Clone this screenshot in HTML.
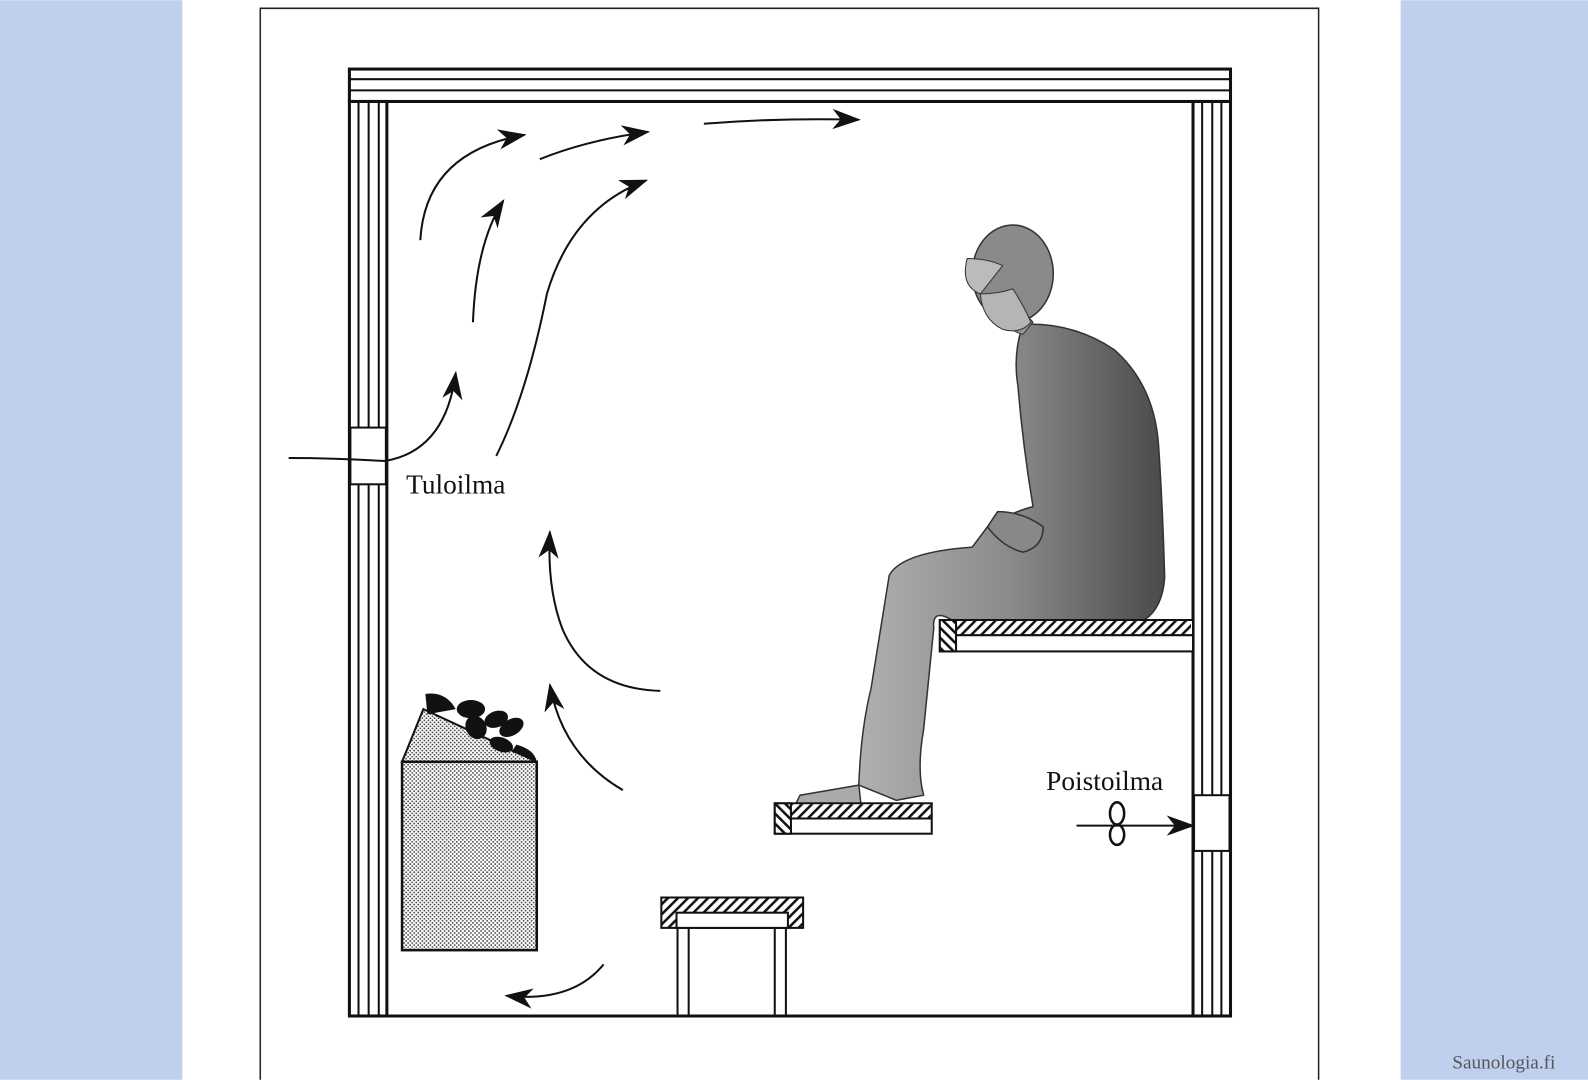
<!DOCTYPE html>
<html><head><meta charset="utf-8"><style>
html,body{margin:0;padding:0;width:1588px;height:1080px;overflow:hidden;background:#fff}
svg{display:block}
</style></head><body>
<svg width="1588" height="1080" viewBox="0 0 1568 1066" xmlns="http://www.w3.org/2000/svg">
<defs>
<pattern id="dots" width="4" height="4" patternUnits="userSpaceOnUse">
<rect width="4" height="4" fill="#fff"/><circle cx="1" cy="1" r="0.9" fill="#444"/><circle cx="3" cy="3" r="0.9" fill="#444"/>
</pattern>
<pattern id="hatch" width="7" height="7" patternUnits="userSpaceOnUse" patternTransform="rotate(45)">
<rect width="7" height="7" fill="#fff"/><rect width="2.5" height="7" fill="#111"/>
</pattern>
<pattern id="hatch2" width="7" height="7" patternUnits="userSpaceOnUse" patternTransform="rotate(-45)">
<rect width="7" height="7" fill="#fff"/><rect width="2.5" height="7" fill="#111"/>
</pattern>
<linearGradient id="body" x1="0" y1="0" x2="1" y2="0">
<stop offset="0" stop-color="#b0b0b0"/><stop offset="0.5" stop-color="#8a8a8a"/><stop offset="1" stop-color="#4a4a4a"/>
</linearGradient>
<marker id="ah" viewBox="0 0 28 20" refX="26" refY="10" markerWidth="28" markerHeight="20" markerUnits="userSpaceOnUse" orient="auto">
<path d="M0,0 L28,10 L0,20 L8,10 Z" fill="#111"/>
</marker>
</defs>
<rect x="0" y="0" width="180" height="1066" fill="#bfd0ef"/>
<rect x="1383" y="0" width="185" height="1066" fill="#bfd0ef"/>
<path d="M257,1066 V8 H1302 V1066" fill="none" stroke="#222" stroke-width="1.5"/>
<rect x="345" y="68" width="870" height="32" fill="#fff" stroke="#111" stroke-width="3"/>
<line x1="345" y1="78" x2="1215" y2="78" stroke="#111" stroke-width="2"/>
<line x1="345" y1="89" x2="1215" y2="89" stroke="#111" stroke-width="2"/>
<g fill="#fff" stroke="#111">
<rect x="345" y="100" width="37" height="903" stroke-width="3"/>
<rect x="1178" y="100" width="37" height="903" stroke-width="3"/>
</g>
<g stroke="#111" stroke-width="2">
<line x1="354" y1="100" x2="354" y2="1003"/><line x1="364" y1="100" x2="364" y2="1003"/><line x1="374" y1="100" x2="374" y2="1003"/>
<line x1="1187" y1="100" x2="1187" y2="1003"/><line x1="1197" y1="100" x2="1197" y2="1003"/><line x1="1206" y1="100" x2="1206" y2="1003"/>
</g>
<line x1="345" y1="1003" x2="1215" y2="1003" stroke="#111" stroke-width="3"/>
<rect x="346" y="422" width="35" height="56" fill="#fff" stroke="#111" stroke-width="2"/>
<rect x="1179" y="785" width="35" height="55" fill="#fff" stroke="#111" stroke-width="2"/>
<path d="M397,752 L418,700 L530,752 Z" fill="url(#dots)" stroke="#111" stroke-width="2"/>
<rect x="397" y="752" width="133" height="186" fill="url(#dots)" stroke="#111" stroke-width="2.5"/>
<g fill="#111">
<path d="M420,685 Q440,682 450,700 L422,705 Z"/>
<ellipse cx="465" cy="700" rx="14" ry="9"/>
<ellipse cx="470" cy="718" rx="10" ry="12" transform="rotate(-30 470 718)"/>
<ellipse cx="490" cy="710" rx="12" ry="8" transform="rotate(-20 490 710)"/>
<ellipse cx="505" cy="718" rx="13" ry="8" transform="rotate(-30 505 718)"/>
<ellipse cx="495" cy="735" rx="12" ry="7" transform="rotate(20 495 735)"/>
<path d="M510,735 Q528,740 530,752 L505,742 Z"/>
</g>
<rect x="653" y="886" width="140" height="30" fill="url(#hatch)" stroke="#111" stroke-width="2"/>
<rect x="668" y="901" width="110" height="15" fill="#fff" stroke="#111" stroke-width="2"/>
<g fill="none" stroke="#111" stroke-width="2">
<line x1="669" y1="916" x2="669" y2="1003"/><line x1="680" y1="916" x2="680" y2="1003"/>
<line x1="765" y1="916" x2="765" y2="1003"/><line x1="776" y1="916" x2="776" y2="1003"/>
</g>
<!-- person -->
<path d="M1010,320 Q1060,318 1100,345 Q1140,380 1144,440 Q1148,500 1150,570 Q1148,600 1130,612 L940,612 Q920,600 922,620 L912,720 Q905,760 912,785 L885,790 L848,775 Q850,720 860,680 L878,568 Q890,545 960,540 L975,520 Q1000,505 1020,500 Q1010,440 1005,380 Q1000,350 1010,320 Z" fill="url(#body)" stroke="#333" stroke-width="1.5"/>
<path d="M848,775 L790,785 L785,795 L850,793 Z" fill="#aaa" stroke="#333" stroke-width="1.5"/>
<path d="M975,520 Q990,540 1010,545 Q1030,540 1030,520 Q1010,505 985,505 Z" fill="#888" stroke="#333" stroke-width="1.5"/>
<path d="M968,290 Q990,325 1010,330 L1020,318 Q1005,300 995,290 Z" fill="#999" stroke="#333" stroke-width="1"/>
<ellipse cx="1000" cy="270" rx="40" ry="48" fill="#8a8a8a" stroke="#333" stroke-width="1.5"/>
<path d="M968,290 Q970,315 990,325 Q1008,330 1018,318 Q1010,300 1000,285 Q985,290 968,290 Z" fill="#b5b5b5" stroke="#333" stroke-width="1"/>
<path d="M955,255 Q948,282 968,290 Q980,275 990,262 Q975,255 955,255 Z" fill="#bbb" stroke="#333" stroke-width="1"/>
<rect x="928" y="612" width="250" height="31" fill="#fff" stroke="#111" stroke-width="2"/>
<rect x="930" y="613" width="246" height="14" fill="url(#hatch)"/>
<rect x="928" y="612" width="16" height="31" fill="url(#hatch2)" stroke="#111" stroke-width="2"/>
<line x1="944" y1="627" x2="1178" y2="627" stroke="#111" stroke-width="2"/>
<rect x="765" y="793" width="155" height="30" fill="#fff" stroke="#111" stroke-width="2"/>
<rect x="766" y="794" width="153" height="14" fill="url(#hatch)"/>
<rect x="765" y="793" width="16" height="30" fill="url(#hatch2)" stroke="#111" stroke-width="2"/>
<line x1="781" y1="808" x2="920" y2="808" stroke="#111" stroke-width="2"/>
<g fill="none" stroke="#111" stroke-width="2" marker-end="url(#ah)">
<path d="M415,237 Q420,150 518,133"/>
<path d="M533,157 Q580,138 640,130"/>
<path d="M695,122 Q770,116 848,118"/>
<path d="M467,318 Q470,240 497,198"/>
<path d="M490,450 Q520,390 540,290 Q565,205 638,178"/>
<path d="M285,452 Q330,452 380,455 Q440,445 450,368"/>
<path d="M652,682 Q580,680 555,620 Q540,580 543,525"/>
<path d="M615,780 Q555,745 543,676"/>
<path d="M596,952 Q565,990 500,983"/>
<path d="M1063,815 L1178,815"/>
</g>
<g fill="none" stroke="#111" stroke-width="2.5">
<ellipse cx="1103" cy="803" rx="7" ry="11"/>
<ellipse cx="1103" cy="824" rx="7" ry="10"/>
</g>
<g font-family="Liberation Serif, serif" fill="#111">
<text x="401" y="487" font-size="27">Tuloilma</text>
<text x="1033" y="780" font-size="27">Poistoilma</text>
</g>
<text x="1434" y="1055" font-family="Liberation Serif, serif" font-size="19" fill="#555">Saunologia.fi</text>
</svg>
</body></html>
